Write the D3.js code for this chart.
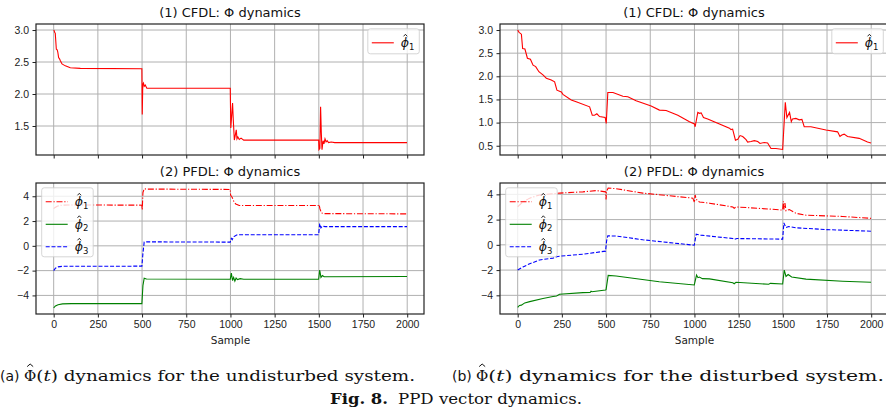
<!doctype html>
<html lang="en">
<head>
<meta charset="utf-8">
<title>PPD vector dynamics</title>
<script src="https://cdn.jsdelivr.net/npm/d3@7"></script>
<style>
  html, body { margin: 0; padding: 0; background: #fff; }
  svg { display: block; font-family: "DejaVu Sans", sans-serif; }
  .grid line { stroke: #b0b0b0; stroke-width: 1; }
  .axis text { font-size: 10.5px; fill: #222; }
  .axis line { stroke: #222; }
  .frame { fill: none; stroke: #222; stroke-width: 1.2; }
  .title { font-size: 13px; fill: #111; text-anchor: middle; }
  .caption text { font-family: "DejaVu Serif", serif; font-size: 15px; fill: #111; }
</style>
</head>
<body>
<svg id="chart" width="886" height="412"></svg>
<script>
// shared ticks
const xTicks = [0, 250, 500, 750, 1000, 1250, 1500, 1750, 2000];
const cfdlTicksA = [1.5, 2.0, 2.5, 3.0];
const cfdlTicksB = [0.5, 1.0, 1.5, 2.0, 2.5, 3.0];
const pfdlTicks = [-4, -2, 0, 2, 4];

// (a) undisturbed system, [sample, value]
const undistCfdlPhi1 = [[0,3.0],[3,2.99],[6,2.96],[9,2.95],[15,2.70],[20,2.69],[23,2.66],[28,2.57],[33,2.55],[38,2.52],[47,2.47],[66,2.44],[94,2.41],[151,2.40],[499,2.395],[501,1.68],[504,2.15],[508,2.17],[512,2.12],[518,2.14],[527,2.09],[999,2.09],[1002,1.47],[1008,1.70],[1012,1.86],[1016,1.60],[1022,1.28],[1027,1.35],[1033,1.44],[1037,1.30],[1042,1.33],[1050,1.29],[1060,1.31],[1075,1.28],[1499,1.28],[1501,1.13],[1506,1.15],[1510,1.80],[1514,1.40],[1518,1.13],[1524,1.27],[1529,1.22],[1535,1.30],[1541,1.25],[1547,1.27],[1555,1.24],[1570,1.25],[1590,1.24],[1999,1.24]];
const undistPfdlPhi1 = [[0,3.0],[8,3.1],[20,3.2],[40,3.27],[80,3.3],[499,3.28],[501,2.9],[505,4.3],[512,4.6],[530,4.58],[999,4.55],[1001,4.1],[1005,4.0],[1010,3.9],[1020,3.55],[1030,3.38],[1050,3.26],[1499,3.25],[1502,3.32],[1506,3.0],[1515,2.65],[1530,2.6],[1999,2.58]];
const undistPfdlPhi2 = [[0,-5.0],[10,-4.85],[25,-4.75],[50,-4.68],[100,-4.66],[499,-4.66],[505,-3.2],[512,-2.62],[525,-2.68],[999,-2.7],[1005,-2.2],[1012,-2.8],[1018,-2.55],[1025,-2.85],[1032,-2.6],[1040,-2.72],[1055,-2.65],[1075,-2.7],[1499,-2.7],[1505,-1.95],[1512,-2.55],[1520,-2.4],[1530,-2.5],[1999,-2.48]];
const undistPfdlPhi3 = [[0,-2.0],[10,-1.8],[25,-1.7],[50,-1.65],[499,-1.64],[505,-0.6],[512,0.3],[525,0.32],[999,0.3],[1005,0.6],[1010,0.5],[1020,0.75],[1035,0.88],[1060,0.9],[1499,0.9],[1505,1.8],[1512,1.45],[1520,1.6],[1535,1.55],[1999,1.55]];

// (b) disturbed system, [sample, value]
const distCfdlPhi1 = [[0,3.0],[8,2.95],[21,2.91],[28,2.6],[41,2.59],[55,2.39],[72,2.37],[87,2.24],[102,2.21],[120,2.1],[143,2.03],[162,1.96],[190,1.92],[209,1.88],[222,1.70],[247,1.66],[256,1.61],[303,1.49],[331,1.45],[407,1.34],[422,1.16],[435,1.16],[448,1.19],[463,1.13],[495,1.11],[501,0.98],[510,1.65],[539,1.65],[595,1.57],[623,1.56],[670,1.47],[755,1.36],[802,1.27],[840,1.26],[906,1.16],[972,1.02],[1000,0.97],[1004,0.91],[1019,1.22],[1028,1.2],[1038,1.21],[1051,1.11],[1075,1.08],[1198,0.88],[1207,0.85],[1216,0.86],[1232,0.62],[1245,0.64],[1258,0.72],[1273,0.70],[1292,0.63],[1301,0.58],[1320,0.59],[1339,0.61],[1358,0.59],[1371,0.55],[1395,0.57],[1414,0.56],[1433,0.44],[1461,0.44],[1499,0.42],[1514,1.44],[1523,1.11],[1538,1.22],[1548,1.02],[1555,1.08],[1574,1.09],[1593,1.06],[1608,1.07],[1621,0.91],[1659,0.91],[1744,0.84],[1810,0.80],[1823,0.70],[1834,0.73],[1847,0.75],[1866,0.70],[1932,0.66],[1979,0.58],[1999,0.56]];
const distPfdlPhi1 = [[0,3.02],[30,3.4],[68,3.7],[124,3.95],[237,4.1],[369,4.2],[444,4.3],[497,4.2],[500,3.6],[503,4.25],[512,4.5],[557,4.45],[708,4.1],[991,3.7],[1000,3.35],[1004,3.95],[1010,3.6],[1028,3.4],[1085,3.3],[1217,3.0],[1225,2.9],[1235,3.0],[1300,2.95],[1461,2.8],[1499,2.75],[1503,3.45],[1507,2.8],[1512,3.3],[1518,2.7],[1537,2.8],[1574,2.5],[1631,2.35],[1838,2.25],[1999,2.1]];
const distPfdlPhi2 = [[0,-4.95],[10,-4.8],[21,-4.78],[40,-4.6],[68,-4.5],[143,-4.25],[200,-4.1],[220,-4.05],[237,-3.92],[369,-3.79],[410,-3.78],[415,-3.68],[420,-3.72],[497,-3.58],[500,-3.55],[512,-2.42],[557,-2.47],[801,-2.92],[999,-3.18],[1012,-2.4],[1020,-2.6],[1028,-2.55],[1045,-2.68],[1085,-2.7],[1217,-3.0],[1225,-3.08],[1235,-2.97],[1420,-3.12],[1430,-3.05],[1499,-3.1],[1508,-2.0],[1518,-2.5],[1530,-2.35],[1550,-2.55],[1631,-2.72],[1838,-2.88],[1999,-2.97]];
const distPfdlPhi3 = [[0,-2.0],[30,-1.75],[68,-1.5],[124,-1.2],[200,-1.05],[220,-0.95],[237,-0.9],[369,-0.74],[497,-0.5],[503,0.3],[510,0.71],[557,0.7],[708,0.4],[999,-0.03],[1010,0.84],[1035,0.77],[1217,0.5],[1225,0.42],[1240,0.5],[1499,0.45],[1506,1.74],[1518,1.37],[1533,1.45],[1574,1.35],[1744,1.21],[1999,1.08]];

const styles = {
  phi1: {color: '#ff0000', dash: '6,1.8,1.2,1.8'},
  phi2: {color: '#008000', dash: null},
  phi3: {color: '#0000ff', dash: '4,1.8'}
};

const svg = d3.select('#chart');

const panels = [
  {left: 36, right: 424, top: 24, bottom: 155, yDomain: [1.047, 3.094], yTicks: cfdlTicksA, fmt: '.1f',
   title: '(1) CFDL: \u03A6 dynamics', xLabels: false, legend: 'right',
   series: [{key: 'phi1', idx: 1, data: undistCfdlPhi1, solid: true}]},
  {left: 36, right: 424, top: 183, bottom: 314, yDomain: [-5.5, 5.07], yTicks: pfdlTicks, fmt: 'd',
   title: '(2) PFDL: \u03A6 dynamics', xLabels: true, legend: 'left',
   series: [{key: 'phi1', idx: 1, data: undistPfdlPhi1}, {key: 'phi2', idx: 2, data: undistPfdlPhi2}, {key: 'phi3', idx: 3, data: undistPfdlPhi3}]},
  {left: 500, right: 888, top: 24, bottom: 155, yDomain: [0.30, 3.13], yTicks: cfdlTicksB, fmt: '.1f',
   title: '(1) CFDL: \u03A6 dynamics', xLabels: false, legend: 'right',
   series: [{key: 'phi1', idx: 1, data: distCfdlPhi1, solid: true}]},
  {left: 500, right: 888, top: 183, bottom: 314, yDomain: [-5.48, 4.9], yTicks: pfdlTicks, fmt: 'd',
   title: '(2) PFDL: \u03A6 dynamics', xLabels: true, legend: 'left',
   series: [{key: 'phi1', idx: 1, data: distPfdlPhi1}, {key: 'phi2', idx: 2, data: distPfdlPhi2}, {key: 'phi3', idx: 3, data: distPfdlPhi3}]}
];

// small circumflex drawn as a path, centred on cx
function hat(g, cx, cy, w, h, sw) {
  g.append('path')
    .attr('d', 'M' + (cx - w / 2) + ',' + (cy + h) + 'L' + cx + ',' + cy + 'L' + (cx + w / 2) + ',' + (cy + h))
    .attr('fill', 'none').attr('stroke', '#111').attr('stroke-width', sw);
}

function phiLabel(g, x, y, idx) {
  g.append('text').attr('x', x).attr('y', y)
    .style('font-size', '12.5px').style('font-style', 'italic').attr('fill', '#111')
    .text('\u03D5')
    .append('tspan').attr('dy', 2.5).style('font-size', '8.5px').style('font-style', 'normal').text(idx);
  hat(g, x + 4.6, y - 13, 3.6, 2, 0.9);
}

panels.forEach((p, pi) => {
  const x = d3.scaleLinear().domain([-100, 2095]).range([p.left, p.right]);
  const y = d3.scaleLinear().domain(p.yDomain).range([p.bottom, p.top]);
  const g = svg.append('g');

  const clipId = 'clip' + pi;
  svg.append('clipPath').attr('id', clipId).append('rect')
    .attr('x', p.left).attr('y', p.top).attr('width', p.right - p.left).attr('height', p.bottom - p.top);

  // grid
  const grid = g.append('g').attr('class', 'grid');
  grid.selectAll('.gx').data(xTicks).join('line').attr('class', 'gx')
    .attr('x1', d => x(d)).attr('x2', d => x(d)).attr('y1', p.top).attr('y2', p.bottom);
  grid.selectAll('.gy').data(p.yTicks).join('line').attr('class', 'gy')
    .attr('x1', p.left).attr('x2', p.right).attr('y1', d => y(d)).attr('y2', d => y(d));

  // lines
  const line = d3.line().x(d => x(d[0])).y(d => y(d[1]));
  const lines = g.append('g').attr('clip-path', 'url(#' + clipId + ')');
  p.series.forEach(s => {
    const st = styles[s.key];
    lines.append('path').datum(s.data)
      .attr('fill', 'none').attr('stroke', st.color).attr('stroke-width', 1.1)
      .attr('stroke-dasharray', s.solid ? null : st.dash)
      .attr('d', line);
  });

  // axes
  const yAxis = g.append('g').attr('class', 'axis')
    .attr('transform', 'translate(' + p.left + ',0)')
    .call(d3.axisLeft(y).tickValues(p.yTicks).tickFormat(d3.format(p.fmt)).tickSize(3.5).tickPadding(3.5));
  yAxis.select('.domain').remove();

  const xAxis = g.append('g').attr('class', 'axis')
    .attr('transform', 'translate(0,' + p.bottom + ')')
    .call(d3.axisBottom(x).tickValues(xTicks).tickFormat(p.xLabels ? d3.format('d') : '').tickSize(3.5).tickPadding(3.5));
  xAxis.select('.domain').remove();

  g.append('rect').attr('class', 'frame')
    .attr('x', p.left).attr('y', p.top).attr('width', p.right - p.left).attr('height', p.bottom - p.top);

  if (p.xLabels) {
    g.append('text').attr('x', x(1000)).attr('y', p.bottom + 30)
      .attr('text-anchor', 'middle').style('font-size', '10.5px').attr('fill', '#222').text('Sample');
  }

  g.append('text').attr('class', 'title')
    .attr('x', (p.left + p.right) / 2).attr('y', p.top - 7).text(p.title);

  // legend
  const n = p.series.length;
  const boxW = 51.5;
  const boxH = n === 1 ? 25 : 69;
  const bx = p.legend === 'right' ? p.right - 4.7 - boxW : p.left + 5.7;
  const by = p.top + 4.8;
  const leg = g.append('g');
  leg.append('rect').attr('x', bx).attr('y', by).attr('width', boxW).attr('height', boxH)
    .attr('rx', 2.5).attr('fill', '#fff').attr('fill-opacity', 0.8).attr('stroke', '#cccccc').attr('stroke-width', 0.8);
  p.series.forEach((s, i) => {
    const st = styles[s.key];
    const ly = by + 14 + i * 22.5;
    leg.append('line').attr('x1', bx + 4).attr('x2', bx + 26).attr('y1', ly).attr('y2', ly)
      .attr('stroke', st.color).attr('stroke-width', 1.1)
      .attr('stroke-dasharray', s.solid ? null : st.dash);
    phiLabel(leg, bx + 33, ly + 4.5, s.idx);
  });
});

// captions
const cap = svg.append('g').attr('class', 'caption');
function subCaption(x0, letter, rest, endX) {
  cap.append('text').attr('x', x0).attr('y', 381)
    .style('font-family', '"DejaVu Sans", sans-serif').style('font-size', '14px').text('(' + letter + ')');
  const phi = cap.append('text').attr('x', x0 + 24).attr('y', 381).text('\u03A6');
  const pw = phi.node().getComputedTextLength();
  hat(cap, x0 + 24 + pw / 2, 364, 6, 2.6, 1);
  const t = cap.append('text').attr('x', x0 + 24 + pw).attr('y', 381)
    .attr('textLength', endX - x0 - 24 - pw).attr('lengthAdjust', 'spacingAndGlyphs');
  t.append('tspan').text('(');
  t.append('tspan').style('font-style', 'italic').text('t');
  t.append('tspan').text(') ' + rest);
}
subCaption(0, 'a', 'dynamics for the undisturbed system.', 415);
subCaption(452, 'b', 'dynamics for the disturbed system.', 884);

cap.append('text').attr('x', 330).attr('y', 404)
  .attr('textLength', 58).attr('lengthAdjust', 'spacingAndGlyphs')
  .style('font-weight', 'bold').text('Fig. 8.');
cap.append('text').attr('x', 398).attr('y', 404)
  .attr('textLength', 184).attr('lengthAdjust', 'spacingAndGlyphs')
  .text('PPD vector dynamics.');
</script>
</body>
</html>
